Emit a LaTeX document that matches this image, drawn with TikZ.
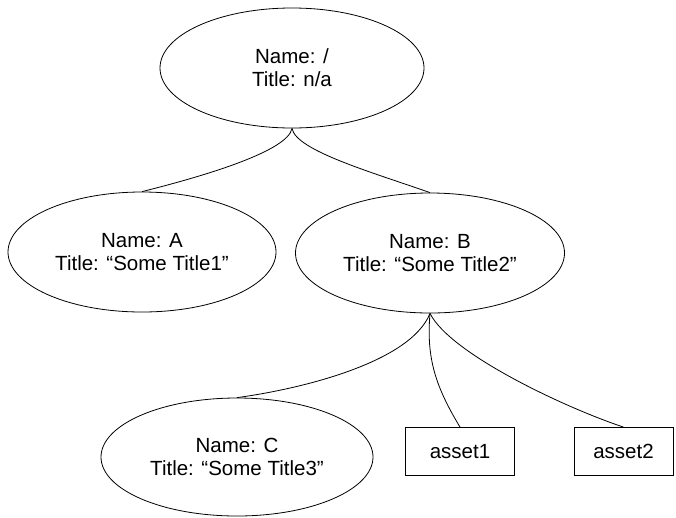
\documentclass[tikz,border=0pt]{standalone}
\usepackage{fontspec}
\setmainfont{Liberation Sans}
\usetikzlibrary{shapes.geometric}
\begin{document}
\begin{tikzpicture}[x=1pt,y=-1pt,
  every node/.style={font=\fontsize{20.5}{23}\selectfont, align=center, inner sep=0pt},
  ell/.style={draw, ellipse, line width=0.8pt, minimum height=120},
  box/.style={draw, rectangle, line width=0.8pt, minimum height=48},
  conn/.style={line width=0.8pt}]
\useasboundingbox (0,0) rectangle (676,517);
\node[ell, minimum width=264] (root) at (292,68) {Name: /\\Title: n/a};
\node[ell, minimum width=268] (A) at (142,252) {Name: A\\Title: “Some Title1”};
\node[ell, minimum width=269] (B) at (430,253) {Name: B\\Title: “Some Title2”};
\node[ell, minimum width=272, minimum height=118] (C) at (237,457) {Name: C\\Title: “Some Title3”};
\node[box, minimum width=109] (a1) at (460,451.5) {asset1};
\node[box, minimum width=99] (a2) at (623.5,451.5) {asset2};
\draw[conn] (root.south) .. controls +(-4,22) and +(68,-17) .. (A.north);
\draw[conn] (root.south) .. controls +(4,22) and +(-60,-21) .. (B.north);
\draw[conn] (B.south) .. controls +(-20,50) and +(60,-8) .. (C.north);
\draw[conn] (B.south) to[out=-95,in=121] (a1.north);
\draw[conn] (B.south) .. controls +(20,40) and +(-60,-20) .. (a2.north);
\end{tikzpicture}
\end{document}
